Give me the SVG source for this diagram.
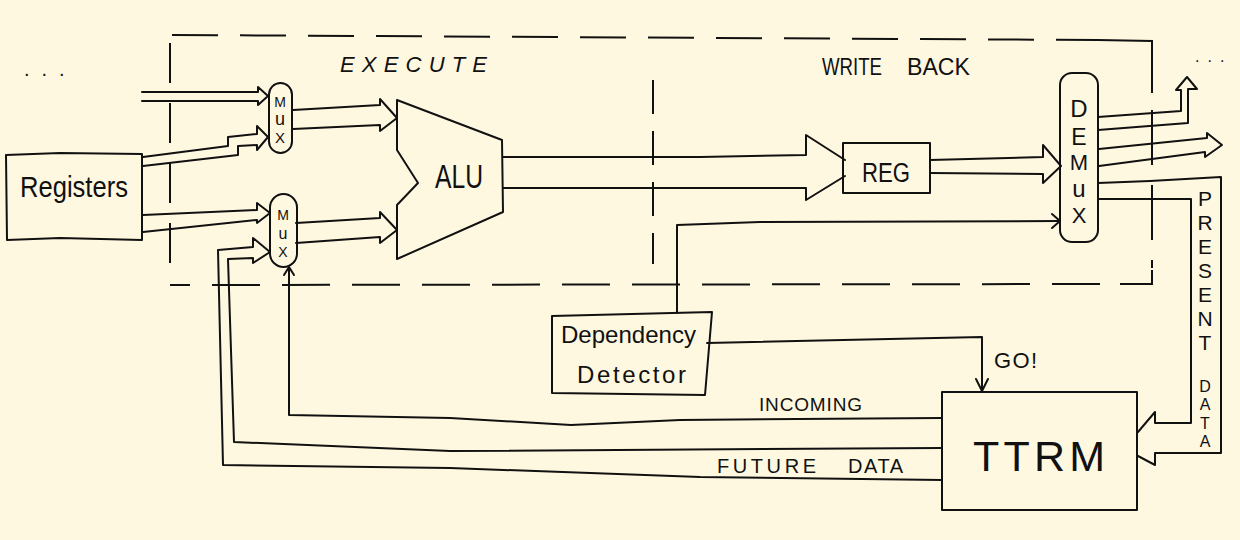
<svg xmlns="http://www.w3.org/2000/svg" width="1240" height="540" viewBox="0 0 1240 540">
<style>
.ln{fill:none;stroke:#111;stroke-width:2;stroke-linejoin:round;stroke-linecap:round}
.bx{fill:none;stroke:#111;stroke-width:2;stroke-linejoin:round}
.dash{fill:none;stroke:#111;stroke-width:2}
.t{font-family:"Liberation Sans","DejaVu Sans",sans-serif;fill:#111}
.m{text-anchor:middle}
</style>
<rect width="1240" height="540" fill="#FFF8E1"/>

<g id="stage-boundaries">
<path class="dash" d="M172,35 L1098,40" stroke-dasharray="46 22"/>
<path class="dash" d="M1098,40 L1152,41 L1152,93"/>
<path class="dash" d="M1152,110 L1152,268" stroke-dasharray="55 20"/>
<path class="dash" d="M1152,270 L1152,284 L1120,284"/>
<path class="dash" d="M1100,284 L170,285" stroke-dasharray="48 22"/>
<path class="dash" d="M170,43 L170,265" stroke-dasharray="40 20"/>
<path class="dash" d="M653,80 L653,264" stroke-dasharray="34 17"/>
<text class="t" x="340" y="72" font-size="22" font-style="italic" textLength="147" lengthAdjust="spacing">EXECUTE</text>
<text class="t" font-size="23"><tspan x="822" y="75" textLength="60" lengthAdjust="spacingAndGlyphs">WRITE</tspan> <tspan x="907" y="75" textLength="63" lengthAdjust="spacingAndGlyphs">BACK</tspan></text>
<text class="t" x="24" y="76" font-size="20" letter-spacing="12">...</text>
<text class="t" x="1195" y="62" font-size="16" letter-spacing="8">...</text>
</g>

<g id="connectors">
<path class="ln" d="M142,92 L258,92 L258,87 L268,96 L258,105 L258,101 L142,101"/>
<path class="ln" d="M143,157 L228,146 L228,137 L257,134 L257,126 L268,137 L257,150 L257,145 L238,146 L238,155 L143,166"/>
<path class="ln" d="M143,215 L257,210 L257,203 L270,213 L257,223 L257,220 L143,232"/>
<path class="ln" d="M942,480 L700,477 L450,468 L223,465 L218,250 L253,247 L253,238 L270,252 L253,263 L253,258 L228,259 L234,442 L450,451 L942,448"/>
<path class="ln" d="M942,418 L680,420 L571,425 L450,418 L289,415 L289,268"/>
<path class="ln" d="M284,275 L289,267 L294,275"/>
<path class="ln" d="M293,110 L380,105 L380,99 L397,118 L380,131 L380,125 L293,129"/>
<path class="ln" d="M296,223 L380,218 L380,212 L397,230 L380,243 L380,237 L296,243"/>
<path class="ln" d="M503,157 L700,157 L806,155 L806,135 L845,160 M845,176 L806,200 L806,188 L503,188"/>
<path class="ln" d="M930,160 L1043,157 L1043,145 L1061,166 L1043,183 L1043,174 L930,173"/>
<path class="ln" d="M677,313 L677,225 L760,222 L1059,221"/>
<path class="ln" d="M1052,214 L1060,221 L1052,228"/>
<path class="ln" d="M707,343 L982,337 L982,390"/>
<path class="ln" d="M976,379 L982,391 L988,379"/>
<path class="ln" d="M1098,117 L1181,111 L1181,90 L1176,90 L1187,77 L1197,89 L1188,89 L1188,123 L1098,130"/>
<path class="ln" d="M1099,149 L1207,138 L1207,133 L1222,145 L1205,157 L1205,152 L1099,166"/>
<path class="ln" d="M1098,183 L1150,181 L1221,177 L1221,453 L1155,453 L1155,465 L1138,456"/>
<path class="ln" d="M1098,199 L1150,199 L1191,199 L1191,423 L1155,423 L1155,412 L1138,432"/>
<text class="t" font-size="19" textLength="103" lengthAdjust="spacing" x="759" y="411">INCOMING</text>
<text class="t" font-size="20"><tspan x="717" y="473" textLength="99" lengthAdjust="spacing">FUTURE</tspan> <tspan x="848" y="473" textLength="55" lengthAdjust="spacing">DATA</tspan></text>
<text class="t" font-size="22" x="994" y="368" textLength="43" lengthAdjust="spacing">GO!</text>
<text class="t m" font-size="21"><tspan x="1205" y="206">P</tspan><tspan x="1205" y="230">R</tspan><tspan x="1205" y="254">E</tspan><tspan x="1205" y="278">S</tspan><tspan x="1205" y="302">E</tspan><tspan x="1205" y="326">N</tspan><tspan x="1205" y="350">T</tspan><tspan x="1205" y="392" font-size="16">D</tspan><tspan x="1205" y="410.3" font-size="16">A</tspan><tspan x="1205" y="428.6" font-size="16">T</tspan><tspan x="1205" y="447" font-size="16">A</tspan></text>
</g>

<g id="registers">
<path class="bx" d="M6,155 L60,153 L142,154 L142,240 L60,238 L7,240 Z"/>
<text class="t" x="20" y="197" font-size="30" textLength="108" lengthAdjust="spacingAndGlyphs">Registers</text>
</g>

<g id="mux1">
<rect class="bx" x="269" y="83" width="23" height="70" rx="11.5"/>
<text class="t m" x="280" y="107" font-size="14">M</text>
<text class="t m" x="280" y="125" font-size="18">u</text>
<text class="t m" x="280" y="143" font-size="15">X</text>
</g>

<g id="mux2">
<rect class="bx" x="270" y="194" width="27" height="73" rx="13.5"/>
<text class="t m" x="283" y="220" font-size="14">M</text>
<text class="t m" x="283" y="239" font-size="16">u</text>
<text class="t m" x="283" y="257" font-size="14">X</text>
</g>

<g id="alu">
<path class="bx" d="M397,100 L502,140 L503,212 L397,259 L397,205 L418,183 L397,150 Z"/>
<text class="t" x="435" y="188" font-size="34" textLength="48" lengthAdjust="spacingAndGlyphs">ALU</text>
</g>

<g id="reg">
<rect class="bx" x="843" y="143" width="87" height="50"/>
<text class="t" x="862" y="182" font-size="27" textLength="48" lengthAdjust="spacingAndGlyphs">REG</text>
</g>

<g id="demux">
<rect class="bx" x="1060" y="73" width="38" height="169" rx="12"/>
<text class="t m" x="1079" y="117" font-size="24">D</text>
<text class="t m" x="1079" y="145" font-size="23">E</text>
<text class="t m" x="1079" y="170" font-size="22">M</text>
<text class="t m" x="1079" y="197" font-size="24">u</text>
<text class="t m" x="1079" y="223" font-size="22">X</text>
</g>

<g id="dependency-detector">
<path class="bx" d="M552,316 L712,312 L705,395 L552,393 Z"/>
<text class="t" x="561" y="343" font-size="24" textLength="135" lengthAdjust="spacingAndGlyphs">Dependency</text>
<text class="t" x="577" y="383" font-size="24" textLength="109" lengthAdjust="spacing">Detector</text>
</g>

<g id="ttrm">
<path class="bx" d="M942,392 L1137,392 L1137,510 L942,510 Z"/>
<text class="t" x="973" y="471" font-size="43" textLength="132" lengthAdjust="spacing">TTRM</text>
</g>
</svg>
